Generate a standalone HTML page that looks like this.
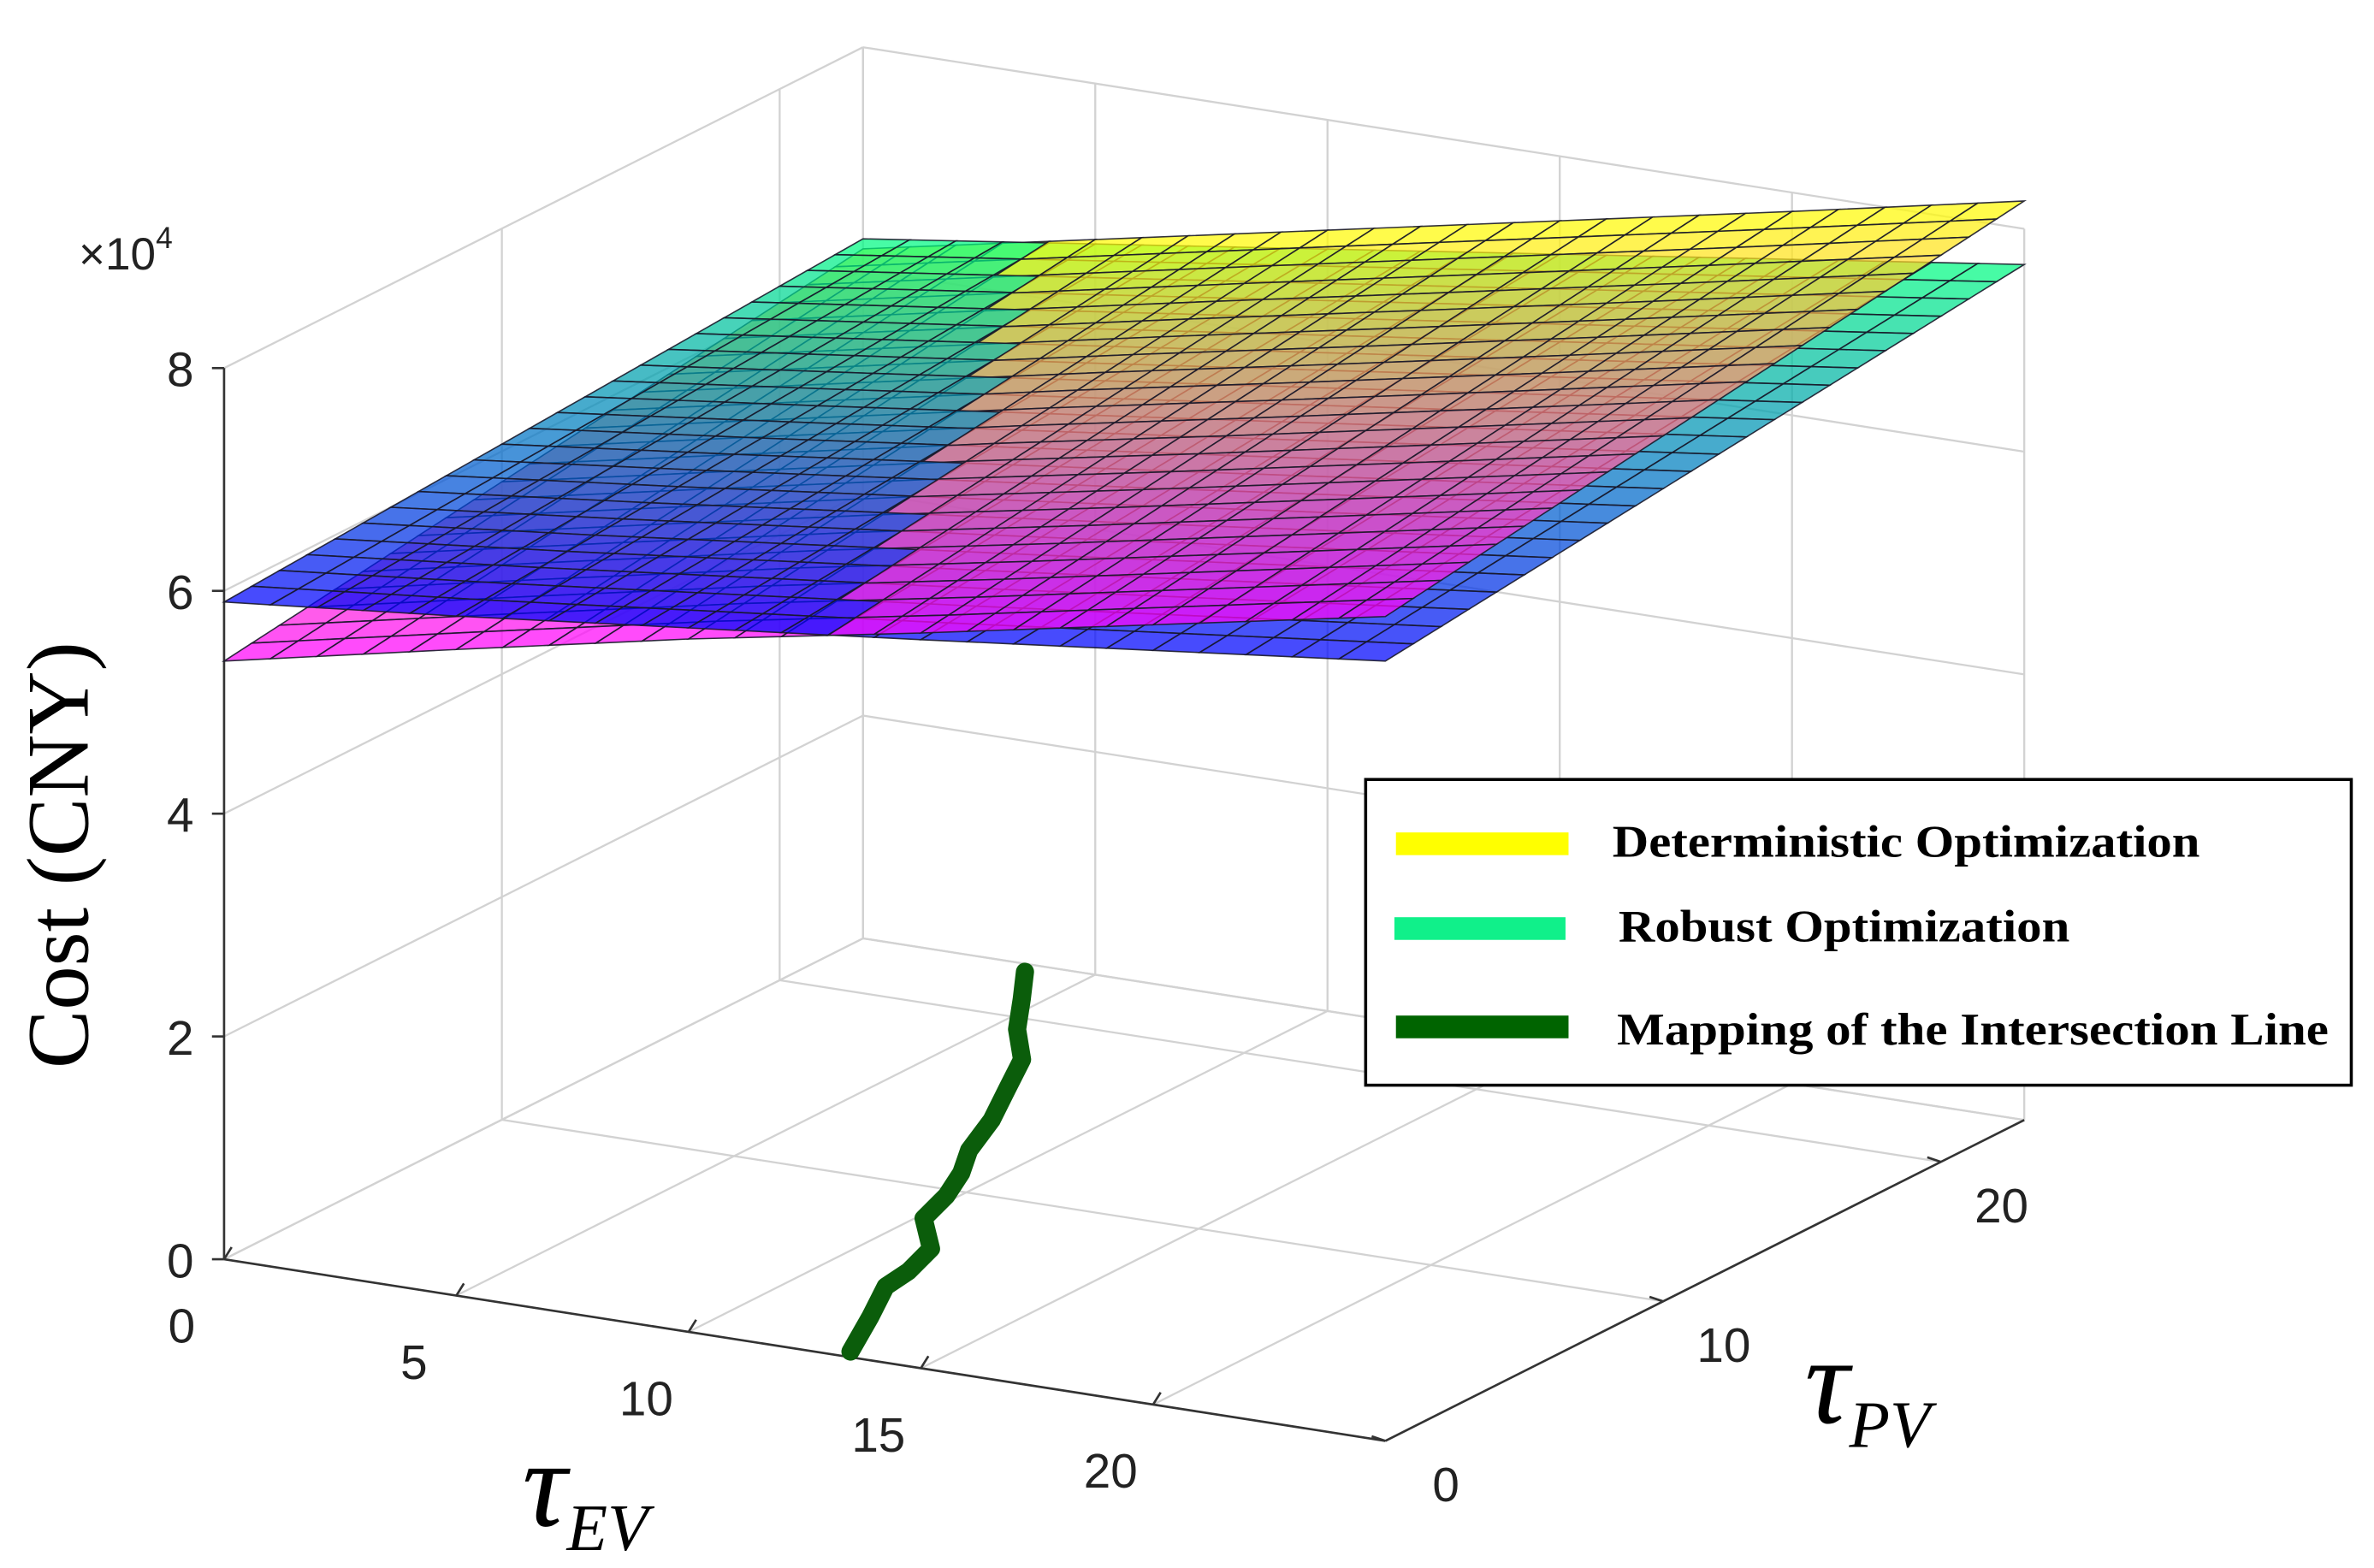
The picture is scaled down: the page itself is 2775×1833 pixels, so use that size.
<!DOCTYPE html>
<html><head><meta charset="utf-8">
<style>html,body{margin:0;padding:0;background:#fff;}svg{display:block;}</style>
</head><body>
<svg id="chart" width="2775" height="1833" viewBox="0 0 1568 1036" preserveAspectRatio="none" xmlns="http://www.w3.org/2000/svg">
<g id="grid"></g>
<g id="axes"></g>
<g id="line"></g>
<g id="surf"></g>
<g id="labels">
<text x="52" y="178" font-family="Liberation Sans, sans-serif" font-size="30" fill="#222">×10<tspan font-size="20" dy="-14">4</tspan></text>
<text transform="translate(58,565) rotate(-90)" text-anchor="middle" font-family="Liberation Serif, serif" font-size="58" fill="#000">Cost (CNY)</text>
<text x="345" y="1008" font-family="Liberation Serif, serif" font-style="italic" font-size="82" fill="#000">τ<tspan font-size="44" dy="16">EV</tspan></text>
<text x="1192" y="940" font-family="Liberation Serif, serif" font-style="italic" font-size="82" fill="#000">τ<tspan font-size="44" dy="16">PV</tspan></text>
</g>
<g>
<rect x="902" y="515" width="651" height="202" fill="#fff" stroke="#000" stroke-width="2"/>
<rect x="922" y="550" width="114" height="15" fill="#ffff00"/>
<text x="1065" y="566" textLength="388" lengthAdjust="spacingAndGlyphs" font-family="Liberation Serif, serif" font-weight="bold" font-size="30">Deterministic Optimization</text>
<rect x="921" y="606" width="113" height="15" fill="#10f08a"/>
<text x="1069" y="622" textLength="298" lengthAdjust="spacingAndGlyphs" font-family="Liberation Serif, serif" font-weight="bold" font-size="30">Robust Optimization</text>
<rect x="922" y="671" width="114" height="15" fill="#006400"/>
<text x="1068" y="690" textLength="470" lengthAdjust="spacingAndGlyphs" font-family="Liberation Serif, serif" font-weight="bold" font-size="30">Mapping of the Intersection Line</text>
</g>
</svg>
<script>
// ---- data ----
const evKnots = [0, 5, 10, 15, 20, 25];
const robustFront = [5.90, 6.10, 6.32, 6.54, 6.77, 7.00];
const robustBack  = [6.28, 6.56, 6.84, 7.12, 7.40, 7.68];
const detFront    = [5.37, 5.80, 6.22, 6.60, 7.00, 7.40];
const detBack     = [6.19, 6.60, 7.01, 7.42, 7.83, 8.25];
const lineEV = [13.30, 12.49, 11.75, 11.63, 11.26, 10.15, 9.78, 9.28, 8.67, 8.05, 7.31, 6.57, 5.50, 4.59, 3.75];
const linePV = [0.31, 2.38, 4.17, 5.19, 6.62, 8.21, 9.65, 11.02, 12.32, 14.17, 15.95, 17.74, 19.35, 21.04, 22.56];
const zTicks = [0, 2, 4, 6, 8];
const evTicks = [0, 5, 10, 15, 20];
const pvTicks = [0, 10, 20];

// ---- projection ----
const EVMAX = 25, PVMAX = 23, ZMAX = 8;
const O = [148, 832];
const E = [767 / EVMAX, 120 / EVMAX];
const P = [422 / PVMAX, -212 / PVMAX];
const U = 73.6;
function proj(ev, pv, z) { return [O[0] + ev * E[0] + pv * P[0], O[1] + ev * E[1] + pv * P[1] - z * U]; }
const NS = 'http://www.w3.org/2000/svg';
function mk(tag, attrs, parent) { const e = document.createElementNS(NS, tag); for (const k in attrs) e.setAttribute(k, attrs[k]); parent.appendChild(e); return e; }
function line3(a, b, parent, color, w) { const p = proj(...a), q = proj(...b); return mk('line', { x1: p[0], y1: p[1], x2: q[0], y2: q[1], stroke: color, 'stroke-width': w }, parent); }

const grid = document.getElementById('grid');
const gc = '#d2d2d2';
for (const z of zTicks) {
  let l = line3([0, PVMAX, z], [EVMAX, PVMAX, z], grid, gc, 1.3);
  
  
  l = line3([0, 0, z], [0, PVMAX, z], grid, gc, 1.3);
  
  
}
for (const ev of evTicks.concat([EVMAX])) {
  let l = line3([ev, PVMAX, 0], [ev, PVMAX, ZMAX], grid, gc, 1.3);
  
  
  l = line3([ev, 0, 0], [ev, PVMAX, 0], grid, gc, 1.3);
  
  
}
for (const pv of pvTicks.concat([PVMAX])) {
  let l = line3([0, pv, 0], [0, pv, ZMAX], grid, gc, 1.3);
  
  
  l = line3([0, pv, 0], [EVMAX, pv, 0], grid, gc, 1.3);
  
  
}

const axes = document.getElementById('axes');
let a = line3([0, 0, 0], [0, 0, ZMAX], axes, '#333', 1.5);


a = line3([0, 0, 0], [EVMAX, 0, 0], axes, '#333', 1.5);


a = line3([EVMAX, 0, 0], [EVMAX, PVMAX, 0], axes, '#333', 1.5);


const tf = 'Liberation Sans, sans-serif';
for (const z of zTicks) {
  const p = proj(0, 0, z);
  let t = mk('line', { x1: p[0] - 8, y1: p[1], x2: p[0], y2: p[1], stroke: '#333', 'stroke-width': 1.5 }, axes);
  
  
  t = mk('text', { x: p[0] - 20, y: p[1] + 12, 'text-anchor': 'end', 'font-family': tf, 'font-size': 32, fill: '#222' }, axes);
  t.textContent = z;
  
  
}
for (const ev of evTicks) {
  const p = proj(ev, 0, 0);
  let t = mk('line', { x1: p[0], y1: p[1], x2: p[0] + 5, y2: p[1] - 8, stroke: '#333', 'stroke-width': 1.5 }, axes);
  
  
  t = mk('text', { x: p[0] - 28, y: p[1] + 55, 'text-anchor': 'middle', 'font-family': tf, 'font-size': 32, fill: '#222' }, axes);
  t.textContent = ev;
  
  
}
for (const pv of pvTicks) {
  const p = proj(EVMAX, pv, 0);
  let t = mk('line', { x1: p[0], y1: p[1], x2: p[0] - 9, y2: p[1] - 3, stroke: '#333', 'stroke-width': 1.5 }, axes);
  
  
  t = mk('text', { x: p[0] + 40, y: p[1] + 40, 'text-anchor': 'middle', 'font-family': tf, 'font-size': 32, fill: '#222' }, axes);
  t.textContent = pv;
  
  
}

const lg = document.getElementById('line');
const pts = lineEV.map((ev, i) => proj(ev, linePV[i], 0).join(',')).join(' ');
const pl = mk('polyline', { points: pts, fill: 'none', stroke: '#0b5d0b', 'stroke-width': 12, 'stroke-linejoin': 'round', 'stroke-linecap': 'round' }, lg);



function zAt(front, back, ev, pv) {
  let i = Math.min(evKnots.length - 2, Math.floor(ev / 5));
  const t = (ev - evKnots[i]) / (evKnots[i + 1] - evKnots[i]);
  const f = front[i] + (front[i + 1] - front[i]) * t;
  const b = back[i] + (back[i + 1] - back[i]) * t;
  return f + (b - f) * (pv / PVMAX);
}
function rob(ev, pv) { return zAt(robustFront, robustBack, ev, pv); }
function det(ev, pv) { return zAt(detFront, detBack, ev, pv); }
function winter(t) { return [0, Math.round(255 * t), Math.round(255 * (1 - 0.5 * t))]; }
function spring(t) { return [255, Math.round(255 * t), Math.round(255 * (1 - t))]; }
const surf = document.getElementById('surf');
const cells = [];
for (let i = 0; i < EVMAX; i++) for (let j = 0; j < PVMAX; j++) {
  const ce = i + 0.5, cp = j + 0.5;
  const zr = rob(ce, cp), zd = det(ce, cp);
  cells.push({ f: rob, i, j, cm: winter, upper: zr >= zd, name: 'robust-cell' });
  cells.push({ f: det, i, j, cm: spring, upper: zd > zr, name: 'deterministic-cell' });
}
cells.sort((a, b) => (a.upper - b.upper) || (b.j - a.j) || (a.i - b.i));
for (const c of cells) {
  const q = [[c.i, c.j], [c.i + 1, c.j], [c.i + 1, c.j + 1], [c.i, c.j + 1]].map(([e, p]) => proj(e, p, c.f(e, p)));
  const col = c.cm((c.j + 0.5) / PVMAX);
  const poly = mk('polygon', { points: q.map(p => p.join(',')).join(' '), fill: 'rgb(' + col.join(',') + ')', 'fill-opacity': 0.72, stroke: '#1a1a2a', 'stroke-width': 0.9, 'stroke-opacity': 0.9 }, surf);
  
  
}
</script>
</body></html>
